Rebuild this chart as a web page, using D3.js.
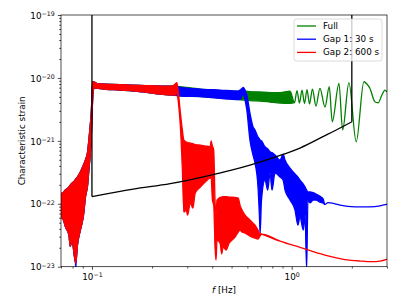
<!DOCTYPE html>
<html>
<head>
<meta charset="utf-8">
<script src="https://cdn.jsdelivr.net/npm/d3@7"></script>
<style>
  body { margin: 0; background: #fff; }
  svg { display: block; font-family: "DejaVu Sans", sans-serif; }
</style>
</head>
<body>
<svg width="407" height="305"></svg>
<script>
// each entry: [f (Hz), upper strain, lower strain]; two-element entries are plain line points
const leakage = [
  [0.0700, 1.44e-22, 6.2e-23], [0.0720, 1.53e-22, 5.5e-23], [0.0737, 1.65e-22, 4.3e-23],
  [0.0767, 1.84e-22, 3.2e-23], [0.0779, 1.98e-22, 2.1e-23], [0.0795, 2.13e-22, 2.65e-23],
  [0.0816, 2.29e-22, 1.5e-23], [0.0830, 2.47e-22, 1.14e-23], [0.0846, 2.66e-22, 2.2e-23],
  [0.0875, 3.19e-22, 3.8e-23], [0.0907, 4.12e-22, 6.6e-23], [0.0928, 4.95e-22, 1.28e-22],
  [0.0951, 6.64e-22, 1.98e-22], [0.0965, 1.03e-21, 3.43e-22], [0.0984, 1.99e-21, 7.14e-22],
  [0.0994, 3.09e-21, 1.33e-21], [0.1003, 6.42e-21, 3.09e-21], [0.1012, 8.70e-21, 5.55e-21],
  [0.1027, 8.61e-21, 6.91e-21], [0.106, 8.15e-21, 6.91e-21], [0.110, 8.0e-21, 6.78e-21],
  [0.1385, 7.85e-21, 6.42e-21], [0.1556, 7.71e-21, 6.26e-21], [0.185, 7.57e-21, 5.97e-21],
  [0.220, 7.43e-21, 5.55e-21], [0.2515, 7.43e-21, 5.35e-21]
];

const fullHigh = [
  [0.349, 6.66e-21, 5.06e-21], [0.540, 6.19e-21, 4.53e-21], [0.584, 6.19e-21, 4.45e-21],
  [0.618, 6.08e-21, 4.37e-21], [0.694, 5.97e-21, 4.29e-21], [0.779, 5.86e-21, 4.14e-21],
  [0.874, 5.86e-21, 3.99e-21], [0.981, 6.19e-21, 3.95e-21],
  [1.033, 4.06e-21], [1.063, 6.30e-21], [1.094, 3.99e-21], [1.126, 6.42e-21],
  [1.159, 3.92e-21], [1.193, 6.54e-21], [1.228, 3.85e-21], [1.27, 6.66e-21],
  [1.323, 3.57e-21], [1.385, 6.84e-21], [1.468, 3.45e-21], [1.542, 7.25e-21],
  [1.596, 2.01e-21], [1.724, 8.2e-21], [1.799, 1.49e-21], [1.934, 8.39e-21],
  [2.104, 9.67e-22], [2.299, 8.70e-21], [2.379, 8.0e-21], [2.463, 6.84e-21],
  [2.61, 4.18e-21], [2.71, 4.03e-21], [2.828, 5.35e-21], [2.928, 6.42e-21], [2.985, 6.08e-21]
];

const gap1High = [
  [0.277, 7.09e-21, 5.15e-21], [0.349, 6.66e-21, 5.06e-21], [0.438, 6.42e-21, 4.74e-21],
  [0.540, 6.19e-21, 4.53e-21], [0.555, 6.5e-21, 4.6e-21], [0.573, 7.09e-21, 5.55e-21],
  [0.584, 6.42e-21, 4.45e-21], [0.596, 5.35e-21, 3.09e-21], [0.618, 2.77e-21, 1.03e-21],
  [0.640, 1.68e-21, 5.94e-22], [0.655, 1.49e-21, 4.44e-22], [0.678, 1.15e-21, 1.86e-22],
  [0.689, 1.08e-21, 6.61e-23], [0.695, 1.03e-21, 3.38e-23], [0.706, 1.0e-21, 1.145e-22],
  [0.735, 8.06e-22, 2.38e-22], [0.759, 7.41e-22, 1.65e-22], [0.779, 6.71e-22, 3.08e-22],
  [0.797, 6.5e-22, 1.65e-22], [0.825, 5.94e-22, 3.08e-22], [0.874, 4.95e-22, 2.66e-22],
  [0.906, 6.17e-22, 2.38e-22], [0.926, 4.95e-22, 1.65e-22], [0.981, 3.69e-22, 1.145e-22],
  [1.039, 2.97e-22, 7.94e-23], [1.075, 2.66e-22, 4.58e-23], [1.10, 2.38e-22, 6.21e-23],
  [1.143, 2.06e-22, 3.82e-23], [1.166, 1.86e-22, 6.61e-23], [1.188, 1.65e-22, 9e-24],
  [1.206, 1.53e-22, 1.145e-22], [1.235, 1.55e-22, 1.03e-22], [1.279, 1.5e-22, 1.145e-22],
  [1.324, 1.43e-22, 1.145e-22], [1.386, 1.32e-22, 1.06e-22], [1.436, 1.2e-22, 1.03e-22],
  [1.468, 9.7e-23], [1.518, 1.04e-22], [1.648, 1.0e-22], [1.746, 9.53e-23],
  [2.076, 8.96e-23], [2.468, 8.96e-23], [2.77, 9.29e-23], [2.985, 9.78e-23]
];

const gap2High = [
  [0.2612, 8.0e-21, 5.35e-21], [0.2661, 8.45e-21, 5.97e-21], [0.270, 6.42e-21, 4.45e-21],
  [0.277, 2.87e-21, 1.72e-21], [0.2836, 1.49e-21, 3.43e-22], [0.2885, 1.03e-21, 7.38e-23],
  [0.2968, 9.57e-22, 7.94e-23], [0.301, 9.4e-22, 6.6e-23], [0.311, 9.23e-22, 1.03e-22],
  [0.320, 9.0e-22, 8.5e-23], [0.329, 8.73e-22, 1.48e-22], [0.349, 8.57e-22, 1.84e-22],
  [0.369, 8.27e-22, 2.21e-22], [0.391, 8.06e-22, 2.56e-22], [0.395, 1.0e-21, 2.56e-22],
  [0.401, 8.27e-22, 1.145e-22], [0.407, 7.14e-22, 9.53e-23], [0.414, 9.53e-23, 1.84e-23],
  [0.418, 7.0e-23, 1.27e-23], [0.423, 1.145e-22, 2.65e-23], [0.438, 1.26e-22, 2.37e-23],
  [0.446, 1.28e-22, 1.6e-23], [0.454, 1.30e-22, 2.05e-23], [0.470, 1.30e-22, 1.84e-23],
  [0.486, 1.28e-22, 2.37e-23], [0.503, 1.28e-22, 2.65e-23], [0.521, 1.26e-22, 2.96e-23],
  [0.540, 1.23e-22, 3.55e-23], [0.551, 9.53e-23, 3.82e-23], [0.564, 7.94e-23, 3.55e-23],
  [0.584, 6.61e-23, 3.42e-23], [0.618, 5.51e-23, 3.07e-23], [0.655, 4.58e-23, 2.85e-23],
  [0.678, 3.82e-23, 2.75e-23], [0.694, 3.38e-23, 3.07e-23],
  [0.709, 3.30e-23], [0.874, 2.55e-23], [1.10, 2.03e-23], [1.468, 1.53e-23],
  [1.849, 1.30e-23], [2.199, 1.23e-23], [2.52, 1.20e-23], [2.77, 1.23e-23], [2.985, 1.31e-23]
];

// blue pokes out under the red leakage band at its deepest notch
const gap1Notch = [[0.0826, 2.4e-22, 1.2e-23], [0.0830, 2.47e-22, 8e-24], [0.0834, 2.5e-22, 1.2e-23]];

// black curve: vertical edges at 0.1 Hz and 2 Hz going up to the top
const sensitivity = [
  [0.1, 1e-19], [0.1, 1.30e-22], [0.161, 1.71e-22], [0.2466, 2.09e-22], [0.404, 2.91e-22],
  [0.618, 4.12e-22], [0.825, 5.53e-22], [1.1, 7.68e-22], [1.468, 1.21e-21],
  [1.746, 1.60e-21], [2.0, 2.01e-21], [2.0, 1e-19]
];

const seriesNames = ['Full', 'Gap 1: 30 s', 'Gap 2: 600 s'];
const seriesColors = ['green', 'blue', 'red'];
const xMajor = [0.1, 1];
const xMinor = [0.07, 0.08, 0.09, 0.2, 0.3, 0.4, 0.5, 0.6, 0.7, 0.8, 0.9, 2, 3];
const yMajor = [1e-23, 1e-22, 1e-21, 1e-20, 1e-19];

const svg = d3.select('svg');
const pLeft = 61, pRight = 387, pTop = 15, pBottom = 266.7;

const x = d3.scaleLog().domain([0.07, 3]).range([pLeft, pRight]);
const y = d3.scaleLog().domain([1e-23, 1e-19]).range([pBottom, pTop]);

svg.append('clipPath').attr('id', 'clip')
  .append('rect').attr('x', pLeft).attr('y', pTop)
  .attr('width', pRight - pLeft).attr('height', pBottom - pTop);

const plot = svg.append('g').attr('clip-path', 'url(#clip)');

const area = d3.area()
  .curve(d3.curveMonotoneX)
  .x(d => x(d[0]))
  .y1(d => y(d[1]))
  .y0(d => y(d.length > 2 ? d[2] : d[1]));

const bands = [
  leakage.concat(fullHigh),
  leakage.concat(gap1High),
  leakage.concat(gap2High)
];

bands.forEach((data, i) => {
  plot.append('path')
    .datum(data)
    .attr('d', area)
    .attr('fill', seriesColors[i])
    .attr('stroke', seriesColors[i])
    .attr('stroke-width', 1.3)
    .attr('stroke-linejoin', 'round');
  if (i === 1) {
    plot.append('path').datum(gap1Notch).attr('d', area)
      .attr('fill', 'blue').attr('stroke', 'blue').attr('stroke-width', 1);
  }
});

const n = sensitivity.length;
const lineLin = d3.line().x(d => x(d[0])).y(d => y(d[1]));
const lineSmooth = d3.line().curve(d3.curveMonotoneX).x(d => x(d[0])).y(d => y(d[1]));
[
  [sensitivity.slice(0, 2), lineLin],
  [sensitivity.slice(1, n - 1), lineSmooth],
  [sensitivity.slice(n - 2), lineLin]
].forEach(([pts, gen]) => {
  plot.append('path')
    .datum(pts)
    .attr('d', gen)
    .attr('fill', 'none')
    .attr('stroke', 'black')
    .attr('stroke-width', 1.3)
    .attr('stroke-linejoin', 'round');
});

// axes
const tickStyle = g => {
  g.select('.domain').remove();
  g.selectAll('.tick line').attr('stroke', 'black').attr('stroke-width', 0.7);
};

const expLabel = sel => sel.each(function (d) {
  const t = d3.select(this).text('');
  const e = Math.round(Math.log10(d));
  t.append('tspan').text('10');
  t.append('tspan').attr('dy', '-0.45em').attr('font-size', '6.3px')
    .text(e < 0 ? '\u2212' + (-e) : String(e));
});

svg.append('g').attr('transform', `translate(0,${pBottom})`)
  .call(d3.axisBottom(x).tickValues(xMinor).tickSize(1.8).tickFormat(''))
  .call(tickStyle);

svg.append('g').attr('transform', `translate(0,${pBottom})`)
  .call(d3.axisBottom(x).tickValues(xMajor).tickSize(3.1).tickPadding(3.1))
  .call(tickStyle)
  .call(g => g.selectAll('.tick text')
    .attr('fill', 'black').attr('font-size', '8.8px').attr('font-family', 'DejaVu Sans')
    .attr('dy', 0).attr('y', 13.6)
    .call(expLabel));

const yMinor = [];
yMajor.slice(0, -1).forEach(m => { for (let k = 2; k < 10; k++) yMinor.push(m * k); });

svg.append('g').attr('transform', `translate(${pLeft},0)`)
  .call(d3.axisLeft(y).tickValues(yMinor).tickSize(1.8).tickFormat(''))
  .call(tickStyle);

svg.append('g').attr('transform', `translate(${pLeft},0)`)
  .call(d3.axisLeft(y).tickValues(yMajor).tickSize(3.1).tickPadding(3.1))
  .call(tickStyle)
  .call(g => g.selectAll('.tick text')
    .attr('fill', 'black').attr('font-size', '8.8px').attr('font-family', 'DejaVu Sans')
    .attr('dy', '0.36em')
    .call(expLabel));

// frame
svg.append('rect')
  .attr('x', pLeft).attr('y', pTop)
  .attr('width', pRight - pLeft).attr('height', pBottom - pTop)
  .attr('fill', 'none').attr('stroke', 'black').attr('stroke-width', 0.7);

// axis titles
const xt = svg.append('text')
  .attr('x', (pLeft + pRight) / 2).attr('y', 293)
  .attr('text-anchor', 'middle').attr('font-size', '8.8px');
xt.append('tspan').attr('font-style', 'italic').text('f');
xt.append('tspan').text(' [Hz]');

svg.append('text')
  .attr('transform', `translate(25,${(pTop + pBottom) / 2}) rotate(-90)`)
  .attr('text-anchor', 'middle').attr('font-size', '8.8px')
  .text('Characteristic strain');

// legend
const legend = svg.append('g').attr('transform', 'translate(294,19)');
legend.append('rect')
  .attr('width', 88).attr('height', 42).attr('rx', 2.5)
  .attr('fill', 'white').attr('fill-opacity', 0.8)
  .attr('stroke', '#cccccc').attr('stroke-width', 0.7);

seriesNames.forEach((name, i) => {
  const row = legend.append('g').attr('transform', `translate(0,${7 + i * 13.2})`);
  row.append('line').attr('x1', 3).attr('x2', 22)
    .attr('stroke', seriesColors[i]).attr('stroke-width', 1.3);
  row.append('text').attr('x', 29).attr('dy', '0.35em')
    .attr('font-size', '8.8px').text(name);
});
</script>
</body>
</html>
